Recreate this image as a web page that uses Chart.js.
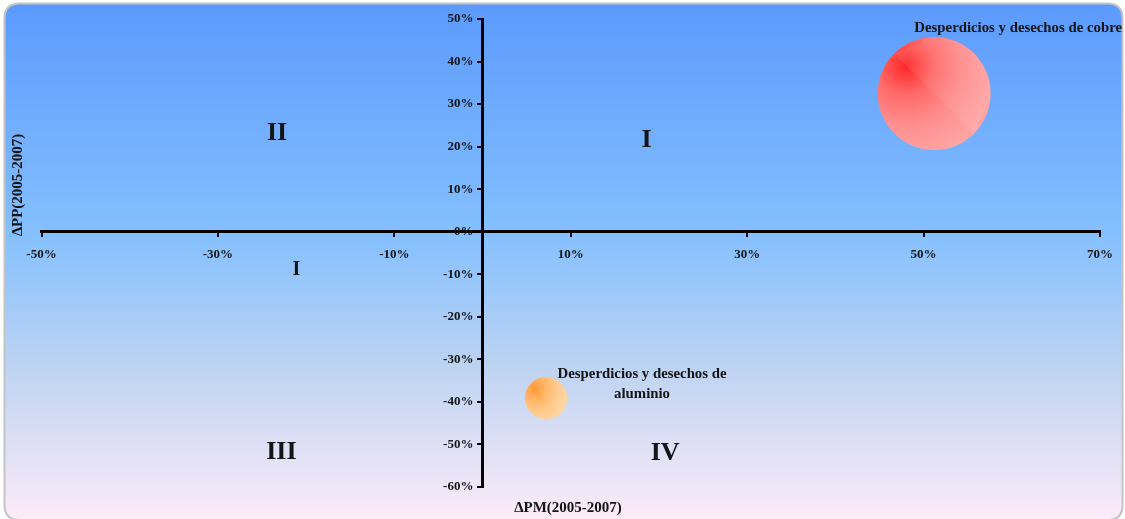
<!DOCTYPE html>
<html>
<head>
<meta charset="utf-8">
<script src="https://cdn.jsdelivr.net/npm/chart.js@4"></script>
<style>
  html, body { margin: 0; padding: 0; background: #ffffff; overflow: hidden; }
  canvas { display: block; }
</style>
</head>
<body>
<canvas id="c" width="1125" height="519"></canvas>
<script>
// ---- data ----
const products = ['Desperdicios y desechos de cobre', 'Desperdicios y desechos de aluminio'];
const deltaPM = [51.2, 7.2];      // x: ΔPM (2005-2007), %
const deltaPP = [32.5, -39.1];    // y: ΔPP (2005-2007), %
const bubbleSize = [100, 14];     // relative bubble size
const xTickValues = [-50, -30, -10, 10, 30, 50, 70];
const yTickValues = [50, 40, 30, 20, 10, 0, -10, -20, -30, -40, -50, -60];
const quadrantNames = ['II', 'I', 'I', 'III', 'IV'];
const xTitle = 'ΔPM(2005-2007)';
const yTitle = 'ΔPP(2005-2007)';

// ---- styling helpers ----
const SERIF = '"Liberation Serif", "Times New Roman", serif';
const MAX_R = 56.5;
const bubbleStops = [
  [[0, '#ff2626'], [0.3, '#ff6a6a'], [0.6, '#ff8e8e'], [1, '#ffa8a8']],
  [[0, '#ff9632'], [0.3, '#ffb25e'], [0.6, '#ffc787'], [1, '#ffd8a2']]
];

function bubbleFill(idx) {
  return function (ctx) {
    const chart = ctx.chart;
    const sx = chart.scales.x, sy = chart.scales.y;
    const fallback = bubbleStops[idx][2][1];
    if (!sx || !sy || !ctx.raw) return fallback;
    const cx = sx.getPixelForValue(ctx.raw.x);
    const cy = sy.getPixelForValue(ctx.raw.y);
    const r = ctx.raw.r;
    if (!isFinite(cx) || !isFinite(cy)) return fallback;
    const hx = cx - r * 0.5, hy = cy - r * 0.5;
    const g = chart.ctx.createRadialGradient(hx, hy, 0, hx, hy, r * 1.75);
    bubbleStops[idx].forEach(s => g.addColorStop(s[0], s[1]));
    return g;
  };
}

const datasets = products.map((name, i) => ({
  label: name,
  data: [{ x: deltaPM[i], y: deltaPP[i], r: MAX_R * Math.sqrt(bubbleSize[i] / Math.max(...bubbleSize)) }],
  backgroundColor: bubbleFill(i),
  hoverBackgroundColor: bubbleFill(i),
  borderWidth: 0,
  hoverBorderWidth: 0,
  hoverRadius: 0
}));

// background frame plugin
const framePlugin = {
  id: 'frame',
  beforeDraw(chart) {
    const c = chart.ctx;
    const x0 = 4.5, y0 = 3.5, x1 = 1122.5, y1 = 520, rad = 15;
    c.save();
    c.beginPath();
    c.moveTo(x0 + rad, y0);
    c.lineTo(x1 - rad, y0);
    c.quadraticCurveTo(x1, y0, x1, y0 + rad);
    c.lineTo(x1, y1 - rad);
    c.quadraticCurveTo(x1, y1, x1 - rad, y1);
    c.lineTo(x0 + rad, y1);
    c.quadraticCurveTo(x0, y1, x0, y1 - rad);
    c.lineTo(x0, y0 + rad);
    c.quadraticCurveTo(x0, y0, x0 + rad, y0);
    c.closePath();
    const g = c.createLinearGradient(0, y0, 0, 519);
    g.addColorStop(0, '#5b9afd');
    g.addColorStop(0.45, '#85c0fe');
    g.addColorStop(0.7, '#bcd3f2');
    g.addColorStop(1, '#fdebf8');
    c.fillStyle = g;
    c.fill();
    c.lineWidth = 2;
    c.strokeStyle = '#c4c4c4';
    c.stroke();
    c.restore();
  }
};

// subtle sheen on the upper-right half of each bubble
const sheenPlugin = {
  id: 'sheen',
  afterDatasetsDraw(chart) {
    const c = chart.ctx;
    chart.data.datasets.forEach((ds, i) => {
      const meta = chart.getDatasetMeta(i);
      meta.data.forEach(el => {
        const r = el.options.radius;
        c.save();
        c.beginPath();
        c.arc(el.x, el.y, r, 0, Math.PI * 2);
        c.clip();
        c.beginPath();
        c.moveTo(el.x - r * 0.7, el.y - r * 0.7);
        c.lineTo(el.x + r * 0.7, el.y + r * 0.7);
        c.lineTo(el.x + r * 2, el.y - r * 2);
        c.closePath();
        c.fillStyle = 'rgba(255,255,255,0.08)';
        c.fill();
        c.restore();
      });
    });
  }
};

// labels plugin
const quadrantPos = [[-23.3, 23.2, 26], [18.6, 21.6, 26], [-21.1, -9.0, 20], [-22.8, -51.8, 26], [20.7, -52.0, 26]];
const labelsPlugin = {
  id: 'labels',
  afterDraw(chart) {
    const c = chart.ctx;
    const sx = chart.scales.x, sy = chart.scales.y;
    c.save();
    c.fillStyle = '#141414';
    c.textAlign = 'center';
    c.textBaseline = 'middle';
    quadrantNames.forEach((t, i) => {
      const p = quadrantPos[i];
      c.font = 'bold ' + p[2] + 'px ' + SERIF;
      c.fillText(t, sx.getPixelForValue(p[0]), sy.getPixelForValue(p[1]));
    });
    c.font = 'bold 14.8px ' + SERIF;
    const px0 = sx.getPixelForValue(deltaPM[0]), py0 = sy.getPixelForValue(deltaPP[0]);
    c.fillText(products[0], px0 + 84, py0 - 65.5);
    const px1 = sx.getPixelForValue(deltaPM[1]), py1 = sy.getPixelForValue(deltaPP[1]);
    const words = products[1].split(' ');
    c.fillText(words.slice(0, -1).join(' '), px1 + 96, py1 - 24);
    c.fillText(words[words.length - 1], px1 + 96, py1 - 4);
    c.font = 'bold 15px ' + SERIF;
    c.fillText(xTitle, 568, 508);
    c.translate(18, 185);
    c.rotate(-Math.PI / 2);
    c.fillText(yTitle, 0, 0);
    c.restore();
  }
};

new Chart(document.getElementById('c'), {
  type: 'bubble',
  data: { datasets },
  options: {
    responsive: false,
    devicePixelRatio: 1,
    animation: false,
    layout: { autoPadding: false, padding: { left: 41.5, right: 25, top: 19, bottom: 32 } },
    plugins: { legend: { display: false }, tooltip: { enabled: false } },
    events: [],
    scales: {
      x: {
        type: 'linear',
        min: -50, max: 70,
        position: { y: 0 },
        afterBuildTicks: (s) => { s.ticks = xTickValues.map(v => ({ value: v })); },
        ticks: {
          callback: (v) => v + '%',
          color: '#141414',
          font: { family: SERIF, size: 13, weight: 'bold' },
          padding: 11,
          maxRotation: 0,
          autoSkip: false
        },
        grid: { drawOnChartArea: false, drawTicks: true, tickLength: 4, color: '#000', lineWidth: 2 },
        border: { display: true, color: '#000', width: 3 }
      },
      y: {
        type: 'linear',
        min: -60, max: 50,
        position: { x: 0 },
        afterBuildTicks: (s) => { s.ticks = yTickValues.map(v => ({ value: v })); },
        ticks: {
          callback: (v) => v + '%\u2002\u2009',
          color: '#141414',
          font: { family: SERIF, size: 13, weight: 'bold' },
          padding: 5,
          autoSkip: false
        },
        grid: { drawOnChartArea: false, drawTicks: true, tickLength: 4, color: '#000', lineWidth: 2 },
        border: { display: true, color: '#000', width: 3 }
      }
    }
  },
  plugins: [framePlugin, sheenPlugin, labelsPlugin]
});
</script>
</body>
</html>
